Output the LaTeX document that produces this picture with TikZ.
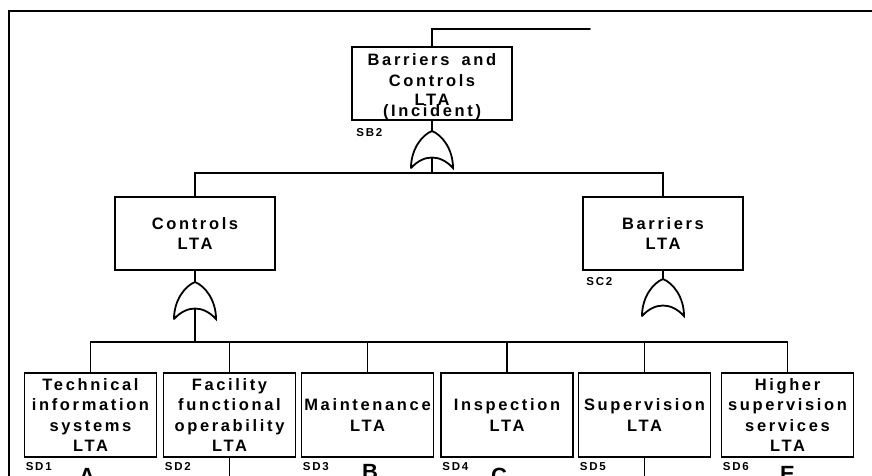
\documentclass[tikz,border=0pt]{standalone}
\usepackage{fontspec}
\setmainfont{Liberation Sans}
\newfontfamily\boxfont{Liberation Sans}[LetterSpace=16,BoldFont={Liberation Sans Bold}]
\newfontfamily\tagfont{Liberation Sans}[LetterSpace=16,BoldFont={Liberation Sans Bold}]
\usetikzlibrary{positioning}

\begin{document}
\begin{tikzpicture}[
    x=1pt, y=-1pt,
    event/.style={draw,line width=1.9pt,minimum width=132pt,minimum height=84pt,
                  inner sep=0pt,align=center,
                  font=\boxfont\bfseries\fontsize{16.5}{20.5}\selectfont},
    upper/.style={event,minimum width=160pt,minimum height=73pt},
    wire/.style={line width=1.6pt,line cap=round},
    frame/.style={line width=2.2pt},
    tag/.style={inner sep=0pt,font=\tagfont\bfseries\fontsize{11.5}{13}\selectfont},
    xfer/.style={inner sep=0pt,font=\bfseries\fontsize{22}{26}\selectfont},
    orgate/.pic={
      \draw[wire,line width=1.8pt] (-21,37) .. controls (-21,18) and (-10,4) .. (0,0)
            .. controls (10,4) and (21,18) .. (21,37)
            .. controls (8,23) and (-8,23) .. (-21,37);
      \coordinate (-in) at (0,0);
      \coordinate (-out) at (0,27);
    },
  ]

  \useasboundingbox (0,0) rectangle (872,475);
  \clip (0,0) rectangle (872,475);

  % --- outer frame (runs off the right and bottom edges) ---
  \coordinate (frtr) at (880,11);
  \coordinate (frbl) at (9,485);
  \draw[frame] (frtr) -| (frbl);

  % --- top event ---
  \node[upper] (top) at (432,83.5)
    {\rule{0pt}{19pt}Barriers\hspace{5pt} and\\[0.5pt] Controls\\[-1.5pt] LTA\\[-9.5pt] (Incident)};
  \node[tag, below right=7pt and 5pt of top.south west] (sb2) {SB2};
  \coordinate (topend) at (590,29);
  \draw[wire] (top.north) |- (topend);

  \pic (gsb) at (432,131) {orgate};
  \coordinate (busA) at (432,173);
  \draw[wire] (top.south) -- (gsb-in);
  \draw[wire] (gsb-out) -- (busA);

  % --- second level ---
  \node[upper] (ctl) at (195,233.5) {Controls\\LTA};
  \node[upper] (bar) at (663,233.5) {Barriers\\LTA};
  \node[tag, below right=6pt and 4pt of bar.south west] (sc2) {SC2};
  \draw[wire] (ctl.north) |- (busA) -| (bar.north);

  \pic (gctl) at (195,282) {orgate};
  \pic (gbar) at (663,279) {orgate};
  \draw[wire] (ctl.south) -- (gctl-in);
  \draw[wire] (bar.south) -- (gbar-in);
  \coordinate (busB) at (195,342);
  \draw[wire] (gctl-out) -- (busB);

  % --- bottom row ---
  \node[event] (tis) at (90.5,415)  {Technical\\information\\systems\\LTA};
  \node[event] (fac) at (229.5,415) {Facility\\functional\\operability\\LTA};
  \node[event] (mnt) at (367.5,415) {Maintenance\\LTA};
  \node[event] (ins) at (507,415)   {Inspection\\LTA};
  \node[event] (sup) at (644.5,415) {Supervision\\LTA};
  \node[event] (hss) at (787.5,415) {Higher\\supervision\\services\\LTA};

  \draw[wire] (tis.north) |- (busB) -| (hss.north);
  \foreach \n in {fac,mnt,ins,sup}
    \draw[wire] (\n.north) -- (\n.north |- busB);

  \foreach \n/\t in {tis/SD1,fac/SD2,mnt/SD3,ins/SD4,sup/SD5,hss/SD6}
    \node[tag, below right=4pt and 2pt of \n.south west] (\n-tag) {\t};

  % --- transfers and cut-off lines ---
  \node[xfer, below=10pt of tis.south, xshift=-3.5pt] (xa) {A};
  \node[xfer, below=6pt of mnt.south, xshift=2.5pt]   (xb) {B};
  \node[xfer, below=10pt of ins.south, xshift=-8pt]   (xc) {C};
  \node[xfer, below=8pt of hss.south]                 (xe) {E};
  \coordinate (cut) at (0,485);
  \draw[wire] (fac.south) -- (fac.south |- cut);
  \draw[wire] (sup.south) -- (sup.south |- cut);

\end{tikzpicture}
\end{document}
